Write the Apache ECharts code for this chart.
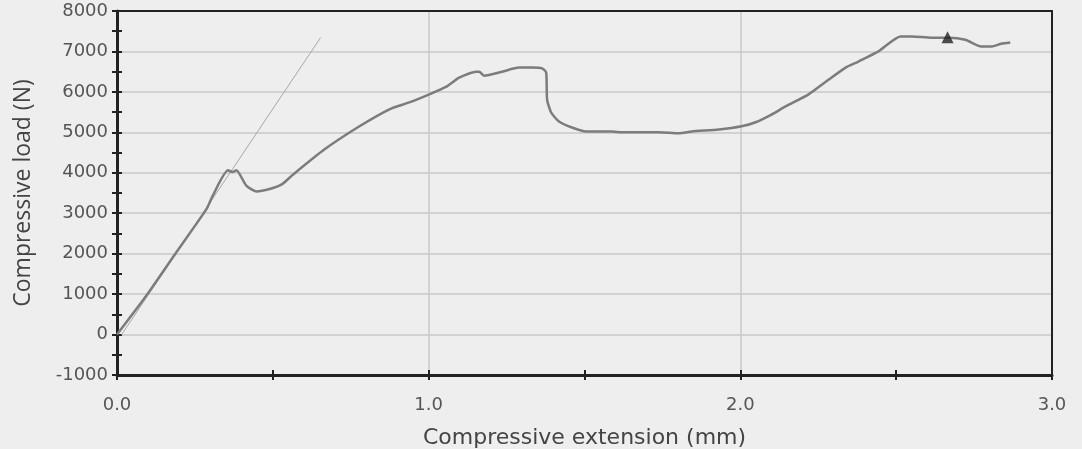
<!DOCTYPE html>
<html>
<head>
<meta charset="utf-8">
<script src="https://cdn.jsdelivr.net/npm/echarts@6/dist/echarts.min.js"></script>
<style>
  html, body { margin: 0; padding: 0; background: #eeeeee; }
  #chart { width: 1082px; height: 449px; }
</style>
</head>
<body>
<div id="chart"></div>
<script>
// Compression test: extension (mm) vs load (N)
const extension = [0, 0.095, 0.191, 0.287, 0.307, 0.356, 0.370, 0.383, 0.415, 0.447, 0.49, 0.53, 0.564, 0.666, 0.778,
  0.874, 0.938, 1.002, 1.057, 1.098, 1.153, 1.162, 1.178, 1.236, 1.29, 1.332, 1.364, 1.377, 1.38, 1.393, 1.418,
  1.46, 1.505, 1.588, 1.62, 1.739, 1.803, 1.844, 1.931, 2.004, 2.049, 2.1, 2.145, 2.219, 2.283, 2.338, 2.379,
  2.443, 2.514, 2.55, 2.613, 2.667, 2.722, 2.773, 2.805, 2.837, 2.866];
const load = [0, 970, 2040, 3100, 3430, 4060, 4020, 4060, 3680, 3540, 3600, 3720, 3950, 4580, 5150,
  5570, 5740, 5940, 6130, 6350, 6500, 6500, 6400, 6500, 6600, 6600, 6580, 6480, 5810, 5490, 5270,
  5120, 5020, 5020, 5000, 5000, 4975, 5020, 5070, 5150, 5250, 5440, 5640, 5940, 6300, 6600, 6750,
  7000, 7370, 7370, 7340, 7340, 7290, 7120, 7120, 7190, 7220];

// Linear (modulus) fit line end points
const fitExtension = [0.015, 0.653];
const fitLoad = [0, 7340];

// Maximum load marker
const maxPoint = [2.665, 7350];

const xTicks = { min: 0, max: 3, interval: 1 };
const yTicks = { min: -1000, max: 8000, interval: 1000 };

const axisColor = '#222222';
const gridColor = '#c8c8c8';
const labelFont = 'DejaVu Sans';

const curve = extension.map((x, i) => [x, load[i]]);
const fit = fitExtension.map((x, i) => [x, fitLoad[i]]);

// kind: 'main' (line, outer ticks, labels), 'inner' (inner ticks), 'frame' (opposite border)
function xAxisBase(kind) {
  const inner = kind === 'inner';
  const frame = kind === 'frame';
  return {
    type: 'value', position: frame ? 'top' : 'bottom',
    min: xTicks.min, max: xTicks.max, interval: xTicks.interval,
    axisLine: { show: kind !== 'inner', onZero: false, lineStyle: { color: axisColor, width: frame ? 2 : 3 } },
    axisTick: { show: !frame, inside: inner, length: 5, lineStyle: { color: axisColor, width: 2 } },
    minorTick: { show: !frame, splitNumber: 2, length: 5, lineStyle: { color: axisColor, width: 2 } },
    splitLine: { show: kind === 'main', lineStyle: { color: gridColor, width: 1.5 } },
    axisLabel: kind !== 'main' ? { show: false } : {
      show: true, margin: 21, fontSize: 18, color: '#555555', fontFamily: labelFont,
      formatter: v => v.toFixed(1)
    }
  };
}

function yAxisBase(kind) {
  const inner = kind === 'inner';
  const frame = kind === 'frame';
  return {
    type: 'value', position: frame ? 'right' : 'left',
    min: yTicks.min, max: yTicks.max, interval: yTicks.interval,
    axisLine: { show: kind !== 'inner', onZero: false, lineStyle: { color: axisColor, width: frame ? 2 : 3 } },
    axisTick: { show: !frame, inside: inner, length: 5, lineStyle: { color: axisColor, width: 2 } },
    minorTick: { show: !frame, splitNumber: 2, length: 5, lineStyle: { color: axisColor, width: 2 } },
    splitLine: { show: kind === 'main', lineStyle: { color: gridColor, width: 1.5 } },
    axisLabel: kind !== 'main' ? { show: false } : {
      show: true, margin: 9, fontSize: 18, color: '#555555', fontFamily: labelFont,
      formatter: v => String(v)
    }
  };
}

const xMain = Object.assign(xAxisBase('main'), {
  name: 'Compressive extension (mm)', nameLocation: 'middle', nameGap: 52,
  nameTextStyle: { fontSize: 22, color: '#444444', fontFamily: labelFont }
});
const yMain = Object.assign(yAxisBase('main'), {
  name: 'Compressive load (N)', nameLocation: 'middle', nameGap: 82,
  nameTextStyle: { fontSize: 23, color: '#444444', fontFamily: 'Open Sans' }
});

const chart = echarts.init(document.getElementById('chart'));
chart.setOption({
  backgroundColor: '#eeeeee',
  animation: false,
  grid: { left: 117, right: 30, top: 11, bottom: 74, containLabel: false, outerBoundsMode: 'none' },
  xAxis: [xMain, xAxisBase('inner'), xAxisBase('frame')],
  yAxis: [yMain, yAxisBase('inner'), yAxisBase('frame')],
  series: [
    {
      type: 'line', data: fit, xAxisIndex: 0, yAxisIndex: 0,
      showSymbol: false, lineStyle: { color: '#a8a8a8', width: 1 }, z: 2
    },
    {
      type: 'line', data: curve, xAxisIndex: 0, yAxisIndex: 0,
      showSymbol: false, smooth: 0.2,
      lineStyle: { color: '#7c7c7c', width: 2.5 }, z: 3
    },
    {
      type: 'scatter', data: [maxPoint], xAxisIndex: 0, yAxisIndex: 0,
      symbol: 'triangle', symbolSize: 12,
      itemStyle: { color: '#222222' }, z: 4
    }
  ]
});
</script>
</body>
</html>
